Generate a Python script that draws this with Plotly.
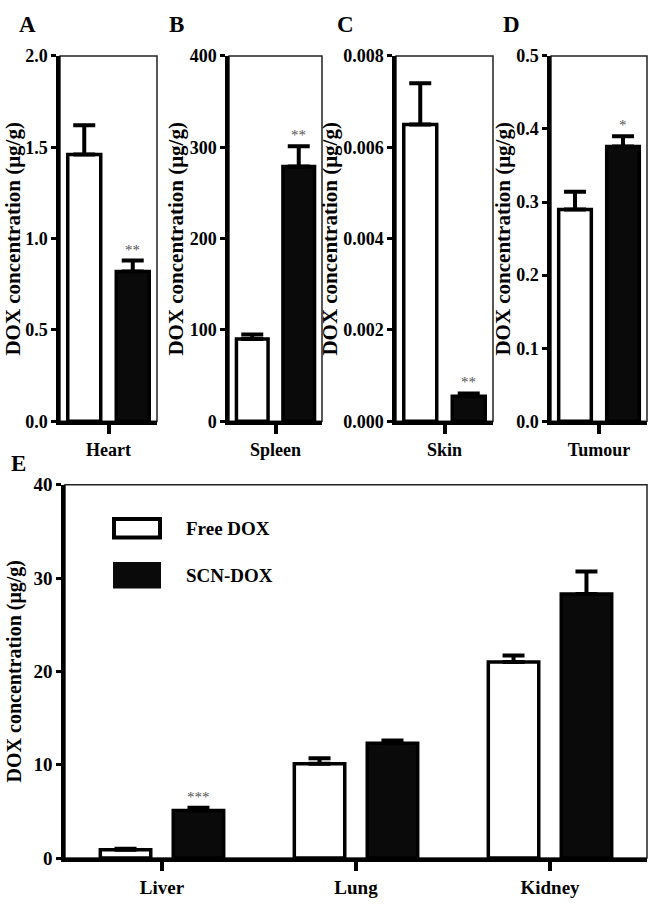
import plotly.graph_objects as go

W, H = 656, 913

# ---------------- data ----------------
groups = ["Free DOX", "SCN-DOX"]

heart_cat = ["Heart"]
heart_free = [1.46]
heart_free_err = [0.16]
heart_scn = [0.82]
heart_scn_err = [0.06]

spleen_cat = ["Spleen"]
spleen_free = [90]
spleen_free_err = [5]
spleen_scn = [279]
spleen_scn_err = [22]

skin_cat = ["Skin"]
skin_free = [0.0065]
skin_free_err = [0.0009]
skin_scn = [0.00055]
skin_scn_err = [0.00006]

tumour_cat = ["Tumour"]
tumour_free = [0.29]
tumour_free_err = [0.024]
tumour_scn = [0.376]
tumour_scn_err = [0.014]

organ_cat = ["Liver", "Lung", "Kidney"]
organ_free = [0.9, 10.1, 21.0]
organ_free_err = [0.1, 0.6, 0.7]
organ_scn = [5.1, 12.3, 28.3]
organ_scn_err = [0.3, 0.3, 2.4]

sig_small = ["**", "**", "**", "*"]
sig_organ = ["***", "", ""]

FONT = "Liberation Serif"


def px(x):
    return x / W


def py(y):
    return 1 - y / H


fig = go.Figure()

panels = [
    dict(cat=heart_cat, free=heart_free, fe=heart_free_err, scn=heart_scn, se=heart_scn_err,
         x0=60, x1=157, yt=47, yb=421, yr=[0, 2.0], dt=0.5, fmt=".1f",
         letter="A", lx=27, ly=15, tx=13, tfs=21, fs=18, sig=sig_small[0], off=0.25, bw=0.34),
    dict(cat=spleen_cat, free=spleen_free, fe=spleen_free_err, scn=spleen_scn, se=spleen_scn_err,
         x0=229, x1=322, yt=47, yb=421, yr=[0, 400], dt=100, fmt="d",
         letter="B", lx=176, ly=15, tx=176, tfs=21, fs=18, sig=sig_small[1], off=0.25, bw=0.34),
    dict(cat=skin_cat, free=skin_free, fe=skin_free_err, scn=skin_scn, se=skin_scn_err,
         x0=396, x1=493, yt=47, yb=421, yr=[0, 0.008], dt=0.002, fmt=".3f",
         letter="C", lx=345, ly=15, tx=330, tfs=21, fs=18, sig=sig_small[2], off=0.25, bw=0.34),
    dict(cat=tumour_cat, free=tumour_free, fe=tumour_free_err, scn=tumour_scn, se=tumour_scn_err,
         x0=551, x1=647, yt=47, yb=421, yr=[0, 0.5], dt=0.1, fmt=".1f",
         letter="D", lx=511, ly=15, tx=503, tfs=21, fs=18, sig=sig_small[3], off=0.25, bw=0.34),
    dict(cat=organ_cat, free=organ_free, fe=organ_free_err, scn=organ_scn, se=organ_scn_err,
         x0=65, x1=647, yt=486, yb=868, yr=[0, 40], dt=10, fmt="d",
         letter="E", lx=18, ly=464, tx=14, tfs=20, fs=19, sig=None, off=0.188, bw=0.26),
]

annotations = []
shapes = []

for k, p in enumerate(panels):
    n = k + 1
    xa = "x" if n == 1 else f"x{n}"
    ya = "y" if n == 1 else f"y{n}"
    xkey = "xaxis" if n == 1 else f"xaxis{n}"
    ykey = "yaxis" if n == 1 else f"yaxis{n}"
    idx = list(range(len(p["cat"])))
    tickfont = dict(family=FONT, size=p["fs"], color="black", weight="bold")

    fig.add_trace(go.Bar(
        x=[i - p["off"] for i in idx], y=p["free"], width=p["bw"],
        name=groups[0], showlegend=False, xaxis=xa, yaxis=ya,
        marker=dict(color="white", line=dict(color="black", width=3.5)),
        error_y=dict(type="data", array=p["fe"], arrayminus=[0] * len(idx), symmetric=False,
                     color="black", thickness=4, width=11),
    ))
    fig.add_trace(go.Bar(
        x=[i + p["off"] for i in idx], y=p["scn"], width=p["bw"],
        name=groups[1], showlegend=False, xaxis=xa, yaxis=ya,
        marker=dict(color="#0a0a0a", line=dict(color="black", width=3.5)),
        error_y=dict(type="data", array=p["se"], arrayminus=[0] * len(idx), symmetric=False,
                     color="black", thickness=4, width=11),
    ))

    fig.layout[xkey] = dict(
        domain=[px(p["x0"]), px(p["x1"])], anchor=ya,
        range=[-0.5, len(idx) - 0.5], tickvals=idx, ticktext=p["cat"],
        showline=True, linewidth=3.5, linecolor="black",
        ticks="outside", ticklen=9, tickwidth=3.5, tickcolor="black",
        tickfont=tickfont, showgrid=False, zeroline=False, fixedrange=True,
    )
    fig.layout[ykey] = dict(
        domain=[py(p["yb"]), py(p["yt"])], anchor=xa,
        range=p["yr"], dtick=p["dt"], tick0=0, tickformat=p["fmt"],
        showline=True, linewidth=3.5, linecolor="black",
        ticks="outside", ticklen=5, tickwidth=3, tickcolor="black",
        tickfont=tickfont, showgrid=False, zeroline=False, fixedrange=True,
    )

    shapes.append(dict(type="rect", xref=f"{xa} domain", yref=f"{ya} domain",
                       x0=0, x1=1, y0=0, y1=1, line=dict(color="#222", width=1.5),
                       layer="below"))

    annotations.append(dict(
        text="DOX concentration (μg/g)", textangle=-90, xref="paper", yref="paper",
        x=px(p["tx"]), y=py((p["yt"] + p["yb"]) / 2), showarrow=False,
        xanchor="center", yanchor="middle",
        font=dict(family=FONT, size=p["tfs"], color="black", weight="bold"),
    ))
    annotations.append(dict(
        text=p["letter"], xref="paper", yref="paper", x=px(p["lx"]), y=py(p["ly"]),
        showarrow=False, xanchor="center", yanchor="middle",
        font=dict(family=FONT, size=23, color="black", weight="bold"),
    ))
    sigs = [p["sig"]] if p["sig"] is not None else sig_organ
    for i, s in zip(idx, sigs):
        if s:
            annotations.append(dict(
                text=s, xref=xa, yref=ya, x=i + p["off"], y=p["scn"][i] + p["se"][i],
                showarrow=False, xanchor="center", yanchor="bottom", yshift=1,
                font=dict(family=FONT, size=15, color="#555"),
            ))

# legend for panel E
shapes.append(dict(type="rect", xref="paper", yref="paper",
                   x0=px(114), x1=px(160), y0=py(540), y1=py(521),
                   fillcolor="white", line=dict(color="black", width=4)))
shapes.append(dict(type="rect", xref="paper", yref="paper",
                   x0=px(113), x1=px(161), y0=py(592), y1=py(565),
                   fillcolor="#0a0a0a", line=dict(color="black", width=0)))
for label, yy in zip(groups, [531, 579]):
    annotations.append(dict(
        text=label, xref="paper", yref="paper", x=px(184), y=py(yy), showarrow=False,
        xanchor="left", yanchor="middle",
        font=dict(family=FONT, size=19, color="black", weight="bold"),
    ))

fig.update_layout(
    width=W, height=H, margin=dict(l=0, r=0, t=0, b=0),
    paper_bgcolor="white", plot_bgcolor="white",
    barmode="overlay", showlegend=False,
    annotations=annotations, shapes=shapes,
    font=dict(family=FONT, color="black"),
)

fig.write_html(
    "out.html",
    config={"displayModeBar": False},
    post_script="document.body.style.margin='0px';document.body.style.overflow='hidden';",
)
